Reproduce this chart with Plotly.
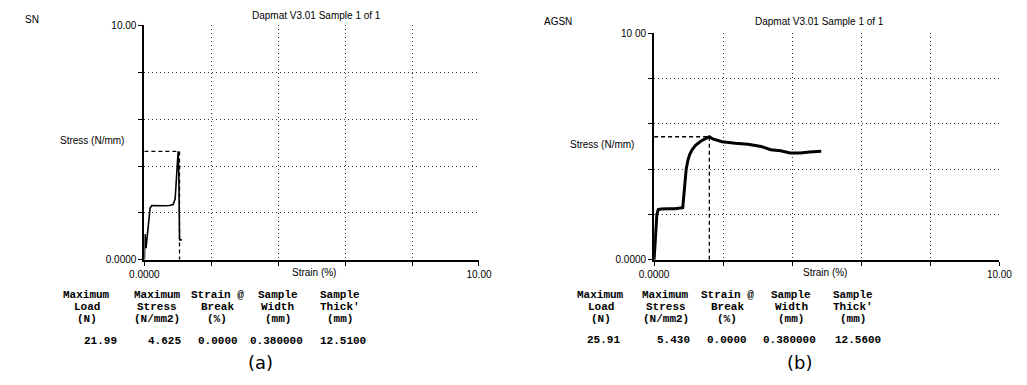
import plotly.graph_objects as go

W, H = 1027, 385

# ---- data ----
sn_strain = [0, 0.02, 0.05, 0.08, 0.12, 0.17, 0.22, 0.35, 0.55, 0.75, 0.86, 0.92, 0.96, 0.99, 1.01, 1.03, 1.05, 1.06, 1.12]
sn_stress = [0, 1.1, 0.5, 0.9, 1.6, 2.2, 2.32, 2.31, 2.31, 2.32, 2.36, 2.6, 3.3, 4.2, 4.625, 3.6, 0.9, 0.85, 0.85]

agsn_strain = [0, 0.04, 0.08, 0.12, 0.2, 0.4, 0.6, 0.83, 0.88, 0.93, 0.98, 1.03, 1.1, 1.2, 1.36, 1.5, 1.6, 1.7, 1.97,
               2.35, 2.72, 3.1, 3.38, 3.66, 3.94, 4.23, 4.5, 4.84]
agsn_stress = [0, 1.2, 2.0, 2.22, 2.24, 2.25, 2.25, 2.3, 3.2, 4.0, 4.4, 4.64, 4.85, 5.05, 5.24, 5.36, 5.43, 5.33, 5.21,
               5.14, 5.10, 5.00, 4.86, 4.81, 4.71, 4.71, 4.76, 4.79]

tick_vals = [0, 2, 4, 6, 8, 10]
x_tick_text = ["0.0000", "", "", "", "", "10.00"]
y_tick_text_a = ["0.0000", "", "", "", "", "10.00"]
y_tick_text_b = ["0.0000", "", "", "", "", "10 00"]

headers = [["Maximum", "Load", "(N)"], ["Maximum", "Stress", "(N/mm2)"], ["Strain @", "Break", "(%)"],
           ["Sample", "Width", "(mm)"], ["Sample", "Thick'", "(mm)"]]
values_a = ["21.99", "4.625", "0.0000", "0.380000", "12.5100"]
values_b = ["25.91", "5.430", "0.0000", "0.380000", "12.5600"]
sample_names = ["SN", "AGSN"]
title_text = "Dapmat V3.01 Sample 1 of 1"
captions = ["(a)", "(b)"]


def px(x):
    return x / W


def py(y):
    return 1 - y / H


fig = go.Figure()

# curves
fig.add_trace(go.Scatter(x=sn_strain, y=sn_stress, mode="lines", line=dict(color="black", width=1.6),
                         xaxis="x", yaxis="y", showlegend=False, hoverinfo="skip"))
fig.add_trace(go.Scatter(x=agsn_strain, y=agsn_stress, mode="lines", line=dict(color="black", width=3),
                         xaxis="x2", yaxis="y2", showlegend=False, hoverinfo="skip"))

# dashed max-stress markers
for xs, ys, xa, ya, vx in [(sn_strain, sn_stress, "x", "y", 1.05), (agsn_strain, agsn_stress, "x2", "y2", None)]:
    m = max(ys)
    sx = xs[ys.index(m)]
    vxx = vx if vx is not None else sx
    fig.add_trace(go.Scatter(x=[0, sx], y=[m, m], mode="lines",
                             line=dict(color="black", width=1.3, dash="4px,3px"),
                             xaxis=xa, yaxis=ya, showlegend=False, hoverinfo="skip"))
    fig.add_trace(go.Scatter(x=[vxx, vxx], y=[m, 0], mode="lines",
                             line=dict(color="black", width=1.3, dash="4px,3px"),
                             xaxis=xa, yaxis=ya, showlegend=False, hoverinfo="skip"))

axis_common = dict(range=[0, 10], tickmode="array", tickvals=tick_vals, showline=True, linecolor="black",
                   linewidth=2, ticks="outside", ticklen=4, tickcolor="black", showgrid=True,
                   gridcolor="#333", griddash="1px,3px", gridwidth=1.2, zeroline=False,
                   tickfont=dict(family="Liberation Sans", size=10, color="black"), fixedrange=True)

fig.update_layout(
    width=W, height=H, margin=dict(l=0, r=0, t=0, b=0),
    paper_bgcolor="white", plot_bgcolor="white",
    xaxis=dict(domain=[px(133), px(477)], anchor="y", ticktext=x_tick_text, **axis_common),
    yaxis=dict(domain=[py(262), py(20)], anchor="x", ticktext=y_tick_text_a, **axis_common),
    xaxis2=dict(domain=[px(657), px(1012)], anchor="y2", ticktext=x_tick_text, **axis_common),
    yaxis2=dict(domain=[py(262), py(28)], anchor="x2", ticktext=y_tick_text_b, **axis_common),
)

ann = []
sf = dict(family="Liberation Sans", size=10, color="black")


def add(x, y, text, font, xanchor="center"):
    ann.append(dict(x=px(x), y=py(y), xref="paper", yref="paper", text=text, showarrow=False,
                    xanchor=xanchor, yanchor="middle", font=font))


for i, (nx, ny, tx, ty, sx_, sy_, strx, capx) in enumerate([
    (8, 14, 310, 10, 79, 139, 307, 252),
    (542, 16, 827, 16, 603, 143, 833, 807),
]):
    add(nx, ny, sample_names[i], sf, "left")
    add(tx, ty, title_text, sf)
    add(sx_, sy_, "Stress (N/mm)", sf)
    add(strx, 275, "Strain (%)", sf)
    add(capx, 368, captions[i], dict(family="DejaVu Sans", size=18, color="black"))

head_a = [74, 146, 208, 270, 334]
val_a = [88, 154, 209, 269, 337]
head_b = [602, 669, 732, 798, 862]
val_b = [605, 677, 732, 796, 867]
tf = dict(family="Liberation Mono", size=11, color="black")
for hcols, vcols, vals, vy in [(head_a, val_a, values_a, 346), (head_b, val_b, values_b, 345)]:
    for hx, vx, hd, v in zip(hcols, vcols, headers, vals):
        for li, line in enumerate(hd):
            add(hx, 298 + li * 12.5, "<b>" + line + "</b>", tf)
        add(vx, vy, "<b>" + v + "</b>", tf)

fig.update_layout(annotations=ann)
fig.write_html("out.html")
